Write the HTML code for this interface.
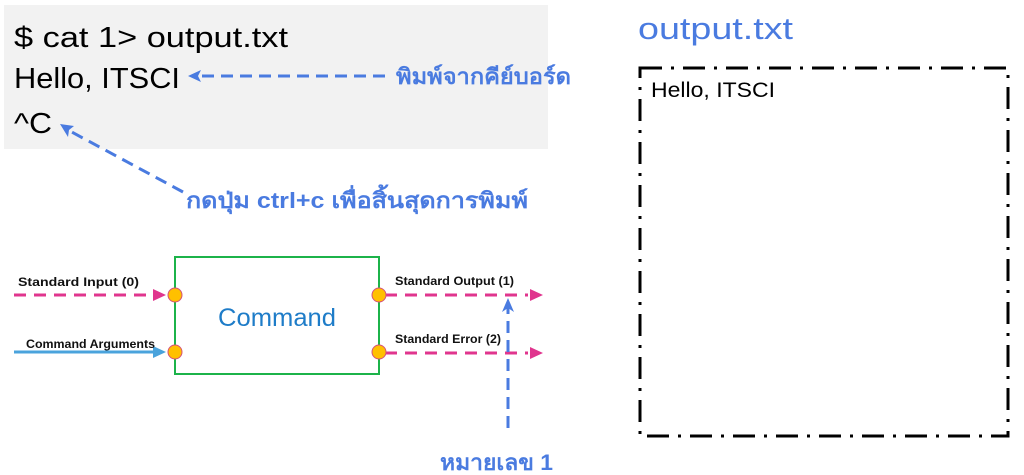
<!DOCTYPE html>
<html><head><meta charset="utf-8"><style>
html,body{margin:0;padding:0;background:#fff;width:1024px;height:475px;overflow:hidden}
text{font-family:"Liberation Sans","Noto Sans CJK SC",sans-serif}
</style></head><body>
<svg width="1024" height="475" xmlns="http://www.w3.org/2000/svg">
<rect x="4" y="5" width="544" height="144" fill="#f2f2f2"/>
<text x="14" y="47" font-size="29" fill="#000" textLength="274" lengthAdjust="spacingAndGlyphs">$ cat 1&gt; output.txt</text>
<text x="14" y="88" font-size="29" fill="#000" textLength="166" lengthAdjust="spacingAndGlyphs">Hello, ITSCI</text>
<text x="14" y="133" font-size="29" fill="#000" textLength="38" lengthAdjust="spacingAndGlyphs">^C</text>
<line x1="385" y1="76" x2="198" y2="76" stroke="#4a7be0" stroke-width="3" stroke-dasharray="12,7"/>
<path d="M188 76 L201 70 L198 76 L201 82 Z" fill="#4a7be0"/>
<text x="396" y="84" font-size="22" font-weight="bold" fill="#4a7be0" textLength="175" lengthAdjust="spacingAndGlyphs">พิมพ์จากคีย์บอร์ด</text>
<line x1="183" y1="192" x2="68" y2="130" stroke="#4a7be0" stroke-width="3" stroke-dasharray="12,7"/>
<path d="M60 124 L74 126 L69 130 L68 137 Z" fill="#4a7be0"/>
<text x="186" y="208" font-size="22" font-weight="bold" fill="#4a7be0" textLength="342" lengthAdjust="spacingAndGlyphs">กดปุ่ม ctrl+c เพื่อสิ้นสุดการพิมพ์</text>
<rect x="175" y="257" width="204" height="117" fill="#fff" stroke="#1cb34a" stroke-width="2"/>
<text x="218" y="326" font-size="25" fill="#1e7cc8" textLength="118" lengthAdjust="spacingAndGlyphs">Command</text>
<line x1="14" y1="295" x2="150" y2="295" stroke="#e0358e" stroke-width="3" stroke-dasharray="12,8"/>
<path d="M166 295 L153 289 L153 301 Z" fill="#e0358e"/>
<text x="18" y="286" font-size="12" font-weight="bold" fill="#111" textLength="121" lengthAdjust="spacingAndGlyphs">Standard Input (0)</text>
<line x1="14" y1="352" x2="155" y2="352" stroke="#4aa3dc" stroke-width="3"/>
<path d="M166 352 L153 346 L153 358 Z" fill="#4aa3dc"/>
<text x="26" y="348" font-size="12" font-weight="bold" fill="#111" textLength="129" lengthAdjust="spacingAndGlyphs">Command Arguments</text>
<line x1="385" y1="295" x2="528" y2="295" stroke="#e0358e" stroke-width="3" stroke-dasharray="12,8"/>
<path d="M543 295 L530 289 L530 301 Z" fill="#e0358e"/>
<text x="395" y="285" font-size="12" font-weight="bold" fill="#111" textLength="119" lengthAdjust="spacingAndGlyphs">Standard Output (1)</text>
<line x1="385" y1="353" x2="528" y2="353" stroke="#e0358e" stroke-width="3" stroke-dasharray="12,8"/>
<path d="M543 353 L530 347 L530 359 Z" fill="#e0358e"/>
<text x="395" y="343" font-size="12" font-weight="bold" fill="#111" textLength="106" lengthAdjust="spacingAndGlyphs">Standard Error (2)</text>
<circle cx="175" cy="295" r="7" fill="#ffc000" stroke="#d4507a" stroke-width="1"/>
<circle cx="175" cy="352" r="7" fill="#ffc000" stroke="#d4507a" stroke-width="1"/>
<circle cx="379" cy="295" r="7" fill="#ffc000" stroke="#d4507a" stroke-width="1"/>
<circle cx="379" cy="352" r="7" fill="#ffc000" stroke="#d4507a" stroke-width="1"/>
<line x1="508" y1="428" x2="508" y2="308" stroke="#4a7be0" stroke-width="3" stroke-dasharray="12,7"/>
<path d="M508 298 L502 312 L508 308 L514 312 Z" fill="#4a7be0"/>
<text x="440" y="470" font-size="22" font-weight="bold" fill="#4a7be0" textLength="113" lengthAdjust="spacingAndGlyphs">หมายเลข 1</text>
<text x="638" y="39" font-size="31" fill="#4a7be0" textLength="155" lengthAdjust="spacingAndGlyphs">output.txt</text>
<rect x="640" y="68" width="368" height="368" fill="none" stroke="#000" stroke-width="3" stroke-dasharray="22,9,3,9"/>
<text x="651" y="97" font-size="21" fill="#000" textLength="124" lengthAdjust="spacingAndGlyphs">Hello, ITSCI</text>
</svg>
</body></html>
